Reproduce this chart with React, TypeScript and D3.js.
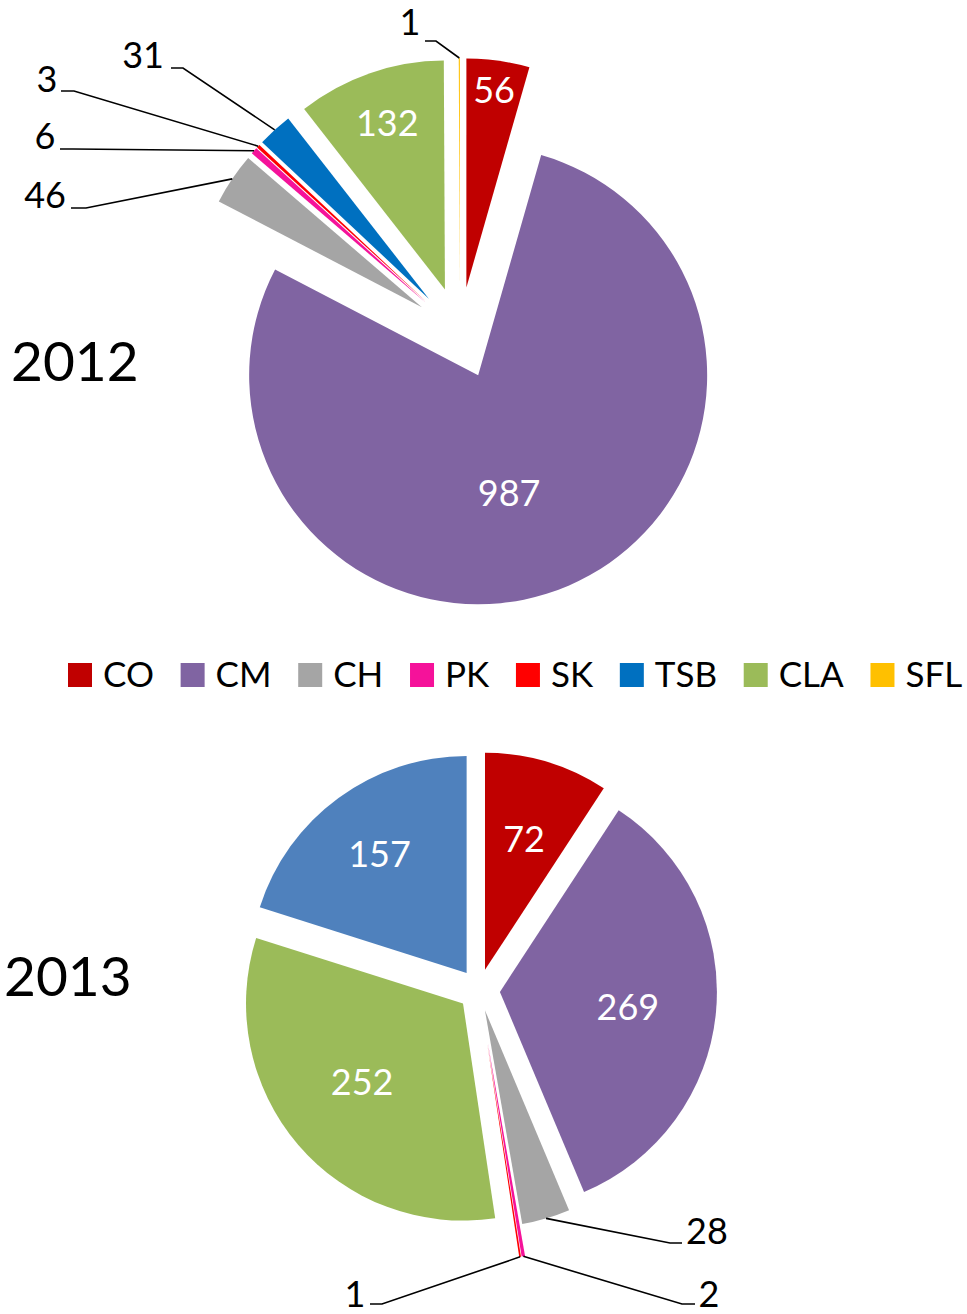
import React from "react";
import * as d3 from "d3";

// ---------- data ----------
const categories2012 = ["CO", "CM", "CH", "PK", "SK", "TSB", "CLA", "SFL"];
const values2012 = [56, 987, 46, 6, 3, 31, 132, 1];

const categories2013 = ["CO", "CM", "CH", "PK", "SK", "CLA", "TSB"];
const values2013 = [72, 269, 28, 2, 1, 252, 157];

const legendLabels = ["CO", "CM", "CH", "PK", "SK", "TSB", "CLA", "SFL"];
const yearLabels = ["2012", "2013"];

// ---------- styles ----------
const COLORS: Record<string, string> = {
  CO: "#C00000",
  CM: "#8064A2",
  CH: "#A5A5A5",
  PK: "#F5129A",
  SK: "#FF0000",
  TSB: "#0070C0",
  CLA: "#9BBB59",
  SFL: "#FFC000",
};
const COLORS_2013: Record<string, string> = { ...COLORS, TSB: "#4F81BD" };

const FONT = "Lato, 'Open Sans', 'DejaVu Sans', sans-serif";
const LABEL_SIZE = 36;

type Inside = { t: number; frac: number };
type Outside = {
  elbow: [number, number];
  end: [number, number];
  text: [number, number];
};

type PieCfg = {
  cx: number;
  cy: number;
  r: number;
  explode: number;
  explodeOverride: Record<string, number>;
  categories: string[];
  values: number[];
  colors: Record<string, string>;
  inside: Record<string, Inside>;
  outside: Record<string, Outside>;
};

const pie2012: PieCfg = {
  cx: 460,
  cy: 333,
  r: 229,
  explode: 46,
  explodeOverride: {},
  categories: categories2012,
  values: values2012,
  colors: COLORS,
  inside: {
    CO: { t: 0.5, frac: 0.87 },
    CM: { t: 0.53, frac: 0.53 },
    CLA: { t: 0.5, frac: 0.77 },
  },
  outside: {
    SFL: { elbow: [-24, -292], end: [-35, -292], text: [-50, -298] },
    TSB: { elbow: [-277, -265], end: [-289, -265], text: [-317, -265] },
    SK: { elbow: [-386, -242], end: [-399, -242], text: [-413, -241] },
    PK: { elbow: [-387, -184], end: [-400, -184], text: [-415, -184] },
    CH: { elbow: [-374, -125], end: [-389, -125], text: [-415, -125] },
  },
};

const pie2013: PieCfg = {
  cx: 479,
  cy: 990,
  r: 217,
  explode: 21,
  explodeOverride: { PK: 53, SK: 53 },
  categories: categories2013,
  values: values2013,
  colors: COLORS_2013,
  inside: {
    CO: { t: 0.5, frac: 0.63 },
    CM: { t: 0.512, frac: 0.594 },
    TSB: { t: 0.5, frac: 0.68 },
    CLA: { t: 0.523, frac: 0.588 },
  },
  outside: {
    CH: { elbow: [191, 253], end: [203, 253], text: [228, 254] },
    PK: { elbow: [203, 314], end: [216, 314], text: [230, 317] },
    SK: { elbow: [-97, 314], end: [-109, 314], text: [-124, 317] },
  },
};

function Pie({ cfg }: { cfg: PieCfg }) {
  const data = cfg.categories.map((c, i) => ({ cat: c, value: cfg.values[i] }));
  const arcs = d3
    .pie<{ cat: string; value: number }>()
    .sort(null)
    .value((d) => d.value)
    .startAngle(0)
    .endAngle(2 * Math.PI)(data);
  const arcGen = d3
    .arc<d3.PieArcDatum<{ cat: string; value: number }>>()
    .innerRadius(0)
    .outerRadius(cfg.r);

  return (
    <g transform={`translate(${cfg.cx},${cfg.cy})`}>
      {arcs.map((a) => {
        const mid = (a.startAngle + a.endAngle) / 2;
        const ex = cfg.explodeOverride[a.data.cat] ?? cfg.explode;
        const ox = ex * Math.sin(mid);
        const oy = -ex * Math.cos(mid);
        return (
          <path
            key={a.data.cat}
            d={arcGen(a) || ""}
            transform={`translate(${ox},${oy})`}
            fill={cfg.colors[a.data.cat]}
          />
        );
      })}
      {arcs.map((a) => {
        const ins = cfg.inside[a.data.cat];
        if (!ins) return null;
        const mid = (a.startAngle + a.endAngle) / 2;
        const ex = cfg.explodeOverride[a.data.cat] ?? cfg.explode;
        const ang = a.startAngle + ins.t * (a.endAngle - a.startAngle);
        const rr = ins.frac * cfg.r;
        const x = ex * Math.sin(mid) + rr * Math.sin(ang);
        const y = -ex * Math.cos(mid) - rr * Math.cos(ang);
        return (
          <text
            key={"in" + a.data.cat}
            x={x}
            y={y}
            dy="0.36em"
            textAnchor="middle"
            fill="#FFFFFF"
            fontFamily={FONT}
            fontSize={LABEL_SIZE}
          >
            {a.data.value}
          </text>
        );
      })}
      {arcs.map((a) => {
        const o = cfg.outside[a.data.cat];
        if (!o) return null;
        const mid = (a.startAngle + a.endAngle) / 2;
        const ex = cfg.explodeOverride[a.data.cat] ?? cfg.explode;
        const sx = (ex + cfg.r) * Math.sin(mid);
        const sy = -(ex + cfg.r) * Math.cos(mid);
        const pts: [number, number][] = [[sx, sy], o.elbow, o.end];
        return (
          <g key={"out" + a.data.cat}>
            <path
              d={d3.line()(pts) || ""}
              fill="none"
              stroke="#000000"
              strokeWidth={1.6}
            />
            <text
              x={o.text[0]}
              y={o.text[1]}
              textAnchor="middle"
              fill="#000000"
              fontFamily={FONT}
              fontSize={LABEL_SIZE}
            >
              {a.data.value}
            </text>
          </g>
        );
      })}
    </g>
  );
}

function Legend() {
  const ref = React.useRef<SVGGElement>(null);
  React.useEffect(() => {
    const g = d3.select(ref.current);
    g.selectAll("*").remove();
    let x = 68;
    const y = 663;
    const sq = 24;
    legendLabels.forEach((lab) => {
      g.append("rect")
        .attr("x", x)
        .attr("y", y)
        .attr("width", sq)
        .attr("height", sq)
        .attr("fill", COLORS[lab]);
      const t = g
        .append("text")
        .attr("x", x + sq + 11)
        .attr("y", y + sq)
        .attr("font-family", FONT)
        .attr("font-size", 35)
        .attr("fill", "#000")
        .text(lab);
      const w = (t.node() as SVGTextElement).getComputedTextLength();
      x = x + sq + 11 + w + 26.7;
    });
  }, []);
  return <g ref={ref} />;
}

export default function App() {
  return (
    <svg
      width={967}
      height={1314}
      style={{ position: "absolute", left: 0, top: 0, background: "#fff" }}
    >
      <Pie cfg={pie2012} />
      <Pie cfg={pie2013} />
      <Legend />
      <text x={11} y={381} fontFamily={FONT} fontSize={55} fill="#000">
        {yearLabels[0]}
      </text>
      <text x={4} y={996} fontFamily={FONT} fontSize={55} fill="#000">
        {yearLabels[1]}
      </text>
    </svg>
  );
}
